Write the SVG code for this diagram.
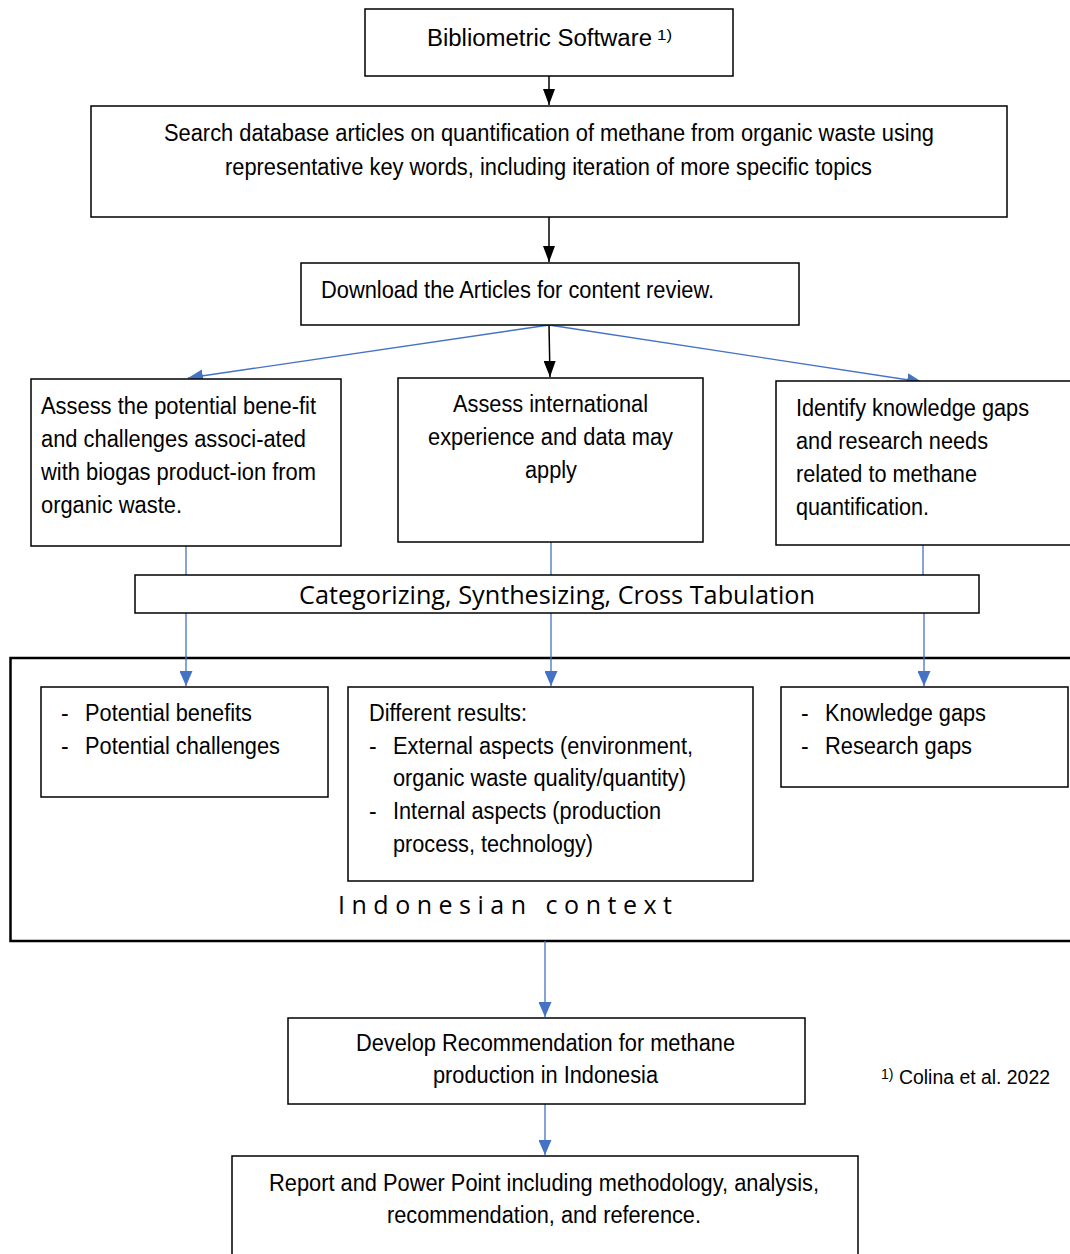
<svg xmlns="http://www.w3.org/2000/svg" width="1070" height="1254" viewBox="0 0 1070 1254">
<style>
.box{fill:#fff;stroke:#000;stroke-width:1.5}
.frame{fill:none;stroke:#000;stroke-width:2.5}
.t{font-family:"Liberation Sans",Arial,sans-serif;font-size:23px;fill:#000}
.fn{font-family:"Liberation Sans",Arial,sans-serif;font-size:20px;fill:#000}
.c{font-family:"Open Sans","Noto Sans",sans-serif;font-size:25px;fill:#000}
.sup{font-family:"Liberation Sans",Arial,sans-serif;font-size:14px;fill:#000}
.bl{stroke:#000;stroke-width:1.5;fill:none}
.bu{stroke:#4472C4;stroke-width:1.3;fill:none}
</style>
<defs>
<marker id="ab" viewBox="0 0 16 12" refX="16" refY="6" markerWidth="16" markerHeight="12" markerUnits="userSpaceOnUse" orient="auto"><path d="M0,0 L16,6 L0,12 z" fill="#000"/></marker>
<marker id="au" viewBox="0 0 15 13" refX="15" refY="6.5" markerWidth="15" markerHeight="13" markerUnits="userSpaceOnUse" orient="auto"><path d="M0,0 L15,6.5 L0,13 z" fill="#4472C4"/></marker>
</defs>
<rect width="1070" height="1254" fill="#fff"/>

<g id="frame-indonesia">
<rect class="frame" x="10.5" y="658" width="1065" height="283"/>
<text class="c" x="338" y="914" textLength="334" lengthAdjust="spacing">Indonesian context</text>
</g>

<g id="connectors">
<line class="bl" x1="549" y1="76" x2="549" y2="105" marker-end="url(#ab)"/>
<line class="bl" x1="549" y1="217" x2="549" y2="262" marker-end="url(#ab)"/>
<line class="bl" x1="549" y1="325" x2="550" y2="377" marker-end="url(#ab)"/>
<line class="bu" x1="549" y1="325" x2="188" y2="378" marker-end="url(#au)"/>
<line class="bu" x1="549" y1="325" x2="922" y2="382" marker-end="url(#au)"/>
<line class="bu" x1="186" y1="546" x2="186" y2="575"/>
<line class="bu" x1="551" y1="542" x2="551" y2="575"/>
<line class="bu" x1="923" y1="545" x2="923" y2="575"/>
<line class="bu" x1="186" y1="613" x2="186" y2="686" marker-end="url(#au)"/>
<line class="bu" x1="551" y1="613" x2="551" y2="686" marker-end="url(#au)"/>
<line class="bu" x1="924" y1="613" x2="924" y2="686" marker-end="url(#au)"/>
<line class="bu" x1="545" y1="941" x2="545" y2="1017" marker-end="url(#au)"/>
<line class="bu" x1="545" y1="1104" x2="545" y2="1155" marker-end="url(#au)"/>
</g>

<g id="n-bibliometric">
<rect class="box" x="365" y="9" width="368" height="67"/>
<text class="t" x="427" y="46" textLength="225" lengthAdjust="spacingAndGlyphs">Bibliometric Software</text>
<text class="sup" x="657" y="40" textLength="15" lengthAdjust="spacingAndGlyphs">1)</text>
</g>

<g id="n-search">
<rect class="box" x="91" y="106" width="916" height="111"/>
<text class="t" x="164" y="141" textLength="770" lengthAdjust="spacingAndGlyphs">Search database articles on quantification of methane from organic waste using</text>
<text class="t" x="225" y="175" textLength="647" lengthAdjust="spacingAndGlyphs">representative key words, including iteration of more specific topics</text>
</g>

<g id="n-download">
<rect class="box" x="301" y="263" width="498" height="62"/>
<text class="t" x="321" y="298" textLength="393" lengthAdjust="spacingAndGlyphs">Download the Articles for content review.</text>
</g>

<g id="n-assess-benefit">
<rect class="box" x="31" y="379" width="310" height="167"/>
<text class="t" x="41" y="414" textLength="275" lengthAdjust="spacingAndGlyphs">Assess the potential bene-fit</text>
<text class="t" x="41" y="447" textLength="265" lengthAdjust="spacingAndGlyphs">and challenges associ-ated</text>
<text class="t" x="41" y="480" textLength="275" lengthAdjust="spacingAndGlyphs">with biogas product-ion from</text>
<text class="t" x="41" y="513" textLength="141" lengthAdjust="spacingAndGlyphs">organic waste.</text>
</g>

<g id="n-assess-intl">
<rect class="box" x="398" y="378" width="305" height="164"/>
<text class="t" x="453" y="412" textLength="195" lengthAdjust="spacingAndGlyphs">Assess international</text>
<text class="t" x="428" y="445" textLength="245" lengthAdjust="spacingAndGlyphs">experience and data may</text>
<text class="t" x="525" y="478" textLength="52" lengthAdjust="spacingAndGlyphs">apply</text>
</g>

<g id="n-identify">
<rect class="box" x="776" y="381" width="300" height="164"/>
<text class="t" x="796" y="416" textLength="233" lengthAdjust="spacingAndGlyphs">Identify knowledge gaps</text>
<text class="t" x="796" y="449" textLength="192" lengthAdjust="spacingAndGlyphs">and research needs</text>
<text class="t" x="796" y="482" textLength="181" lengthAdjust="spacingAndGlyphs">related to methane</text>
<text class="t" x="796" y="515" textLength="133" lengthAdjust="spacingAndGlyphs">quantification.</text>
</g>

<g id="n-categorizing">
<rect class="box" x="135" y="575" width="844" height="38"/>
<text class="c" x="299" y="604" textLength="516" lengthAdjust="spacingAndGlyphs">Categorizing, Synthesizing, Cross Tabulation</text>
</g>

<g id="n-potential">
<rect class="box" x="41" y="687" width="287" height="110"/>
<text class="t" x="61" y="721">-</text>
<text class="t" x="85" y="721" textLength="167" lengthAdjust="spacingAndGlyphs">Potential benefits</text>
<text class="t" x="61" y="754">-</text>
<text class="t" x="85" y="754" textLength="195" lengthAdjust="spacingAndGlyphs">Potential challenges</text>
</g>

<g id="n-different">
<rect class="box" x="348" y="687" width="405" height="194"/>
<text class="t" x="369" y="721" textLength="158" lengthAdjust="spacingAndGlyphs">Different results:</text>
<text class="t" x="369" y="754">-</text>
<text class="t" x="393" y="754" textLength="300" lengthAdjust="spacingAndGlyphs">External aspects (environment,</text>
<text class="t" x="393" y="786" textLength="293" lengthAdjust="spacingAndGlyphs">organic waste quality/quantity)</text>
<text class="t" x="369" y="819">-</text>
<text class="t" x="393" y="819" textLength="268" lengthAdjust="spacingAndGlyphs">Internal aspects (production</text>
<text class="t" x="393" y="852" textLength="200" lengthAdjust="spacingAndGlyphs">process, technology)</text>
</g>

<g id="n-gaps">
<rect class="box" x="781" y="687" width="287" height="100"/>
<text class="t" x="801" y="721">-</text>
<text class="t" x="825" y="721" textLength="161" lengthAdjust="spacingAndGlyphs">Knowledge gaps</text>
<text class="t" x="801" y="754">-</text>
<text class="t" x="825" y="754" textLength="147" lengthAdjust="spacingAndGlyphs">Research gaps</text>
</g>

<g id="n-develop">
<rect class="box" x="288" y="1018" width="517" height="86"/>
<text class="t" x="356" y="1051" textLength="379" lengthAdjust="spacingAndGlyphs">Develop Recommendation for methane</text>
<text class="t" x="433" y="1083" textLength="225" lengthAdjust="spacingAndGlyphs">production in Indonesia</text>
</g>

<g id="n-footnote">
<text class="sup" x="881" y="1079">1)</text>
<text class="fn" x="899" y="1084" textLength="151" lengthAdjust="spacingAndGlyphs">Colina et al. 2022</text>
</g>

<g id="n-report">
<rect class="box" x="232" y="1156" width="626" height="110"/>
<text class="t" x="269" y="1191" textLength="550" lengthAdjust="spacingAndGlyphs">Report and Power Point including methodology, analysis,</text>
<text class="t" x="387" y="1223" textLength="314" lengthAdjust="spacingAndGlyphs">recommendation, and reference.</text>
</g>
</svg>
